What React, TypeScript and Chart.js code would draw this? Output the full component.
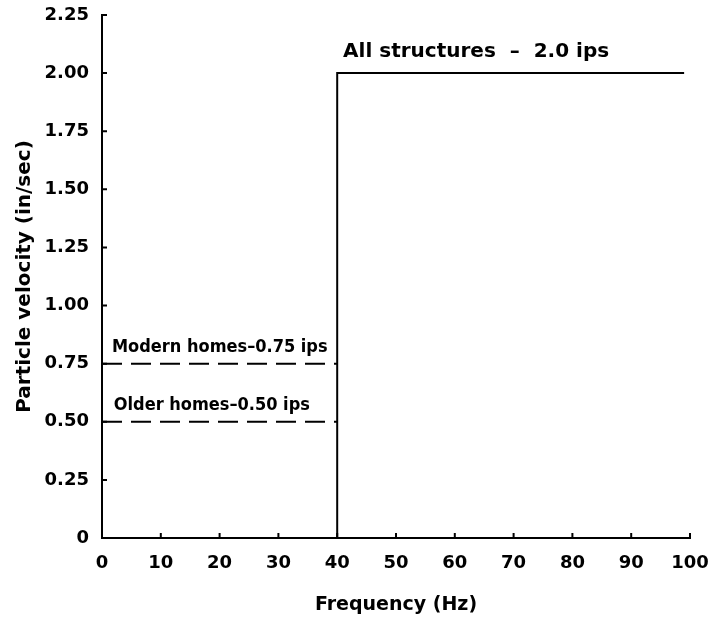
import React, { useEffect, useRef } from "react";
import { Chart, registerables } from "chart.js";

Chart.register(...registerables);

const xTicks = [0, 10, 20, 30, 40, 50, 60, 70, 80, 90, 100];
const yTicks = [0, 0.25, 0.5, 0.75, 1.0, 1.25, 1.5, 1.75, 2.0, 2.25];

const allStructuresX = [40, 40, 99];
const allStructuresY = [0, 2.0, 2.0];
const modernX = [0, 40];
const modernY = [0.75, 0.75];
const olderX = [0, 40];
const olderY = [0.5, 0.5];

const labelTexts = ["All structures  \u2013  2.0 ips", "Modern homes\u20130.75 ips", "Older homes\u20130.50 ips"];
const labelX = [41, 1.7, 2];
const labelY = [2.0, 0.75, 0.5];

const xTitle = "Frequency (Hz)";
const yTitle = "Particle velocity (in/sec)";

const FONT = "'DejaVu Sans', sans-serif";

const toPts = (xs: number[], ys: number[]) => xs.map((x, i) => ({ x, y: ys[i] }));

const inwardTicks = {
  id: "inwardTicks",
  afterDraw(chart: any) {
    const ctx = chart.ctx;
    const xs = chart.scales.x;
    const ys = chart.scales.y;
    ctx.save();
    ctx.strokeStyle = "#000";
    ctx.lineWidth = 2;
    ctx.beginPath();
    yTicks.forEach((v) => {
      const py = ys.getPixelForValue(v);
      ctx.moveTo(xs.left, py);
      ctx.lineTo(xs.left + 5, py);
    });
    xTicks.forEach((v) => {
      const px = xs.getPixelForValue(v);
      ctx.moveTo(px, ys.bottom);
      ctx.lineTo(px, ys.bottom - 5);
    });
    ctx.stroke();
    ctx.fillStyle = "#000";
    ctx.textBaseline = "alphabetic";
    ctx.textAlign = "left";
    labelTexts.forEach((t, i) => {
      ctx.font = i === 0 ? `bold 20px ${FONT}` : `bold 18px 'DejaVu Sans Condensed', ${FONT}`;
      const off = i === 0 ? 16 : 12;
      ctx.fillText(t, xs.getPixelForValue(labelX[i]), ys.getPixelForValue(labelY[i]) - off);
    });
    ctx.restore();
  },
};

export default function App() {
  const ref = useRef<HTMLCanvasElement | null>(null);
  useEffect(() => {
    const chart = new Chart(ref.current as HTMLCanvasElement, {
      type: "line",
      data: {
        datasets: [
          {
            data: toPts(allStructuresX, allStructuresY),
            borderColor: "#000",
            borderWidth: 2,
            pointRadius: 0,
            tension: 0,
          },
          {
            data: toPts(modernX, modernY),
            borderColor: "#000",
            borderWidth: 2,
            borderDash: [20, 9],
            pointRadius: 0,
          },
          {
            data: toPts(olderX, olderY),
            borderColor: "#000",
            borderWidth: 2,
            borderDash: [20, 9],
            pointRadius: 0,
          },
        ],
      },
      options: {
        animation: false,
        responsive: false,
        maintainAspectRatio: false,
        layout: { padding: { top: 15, right: 21, left: 0, bottom: 0 } },
        plugins: { legend: { display: false }, tooltip: { enabled: false } },
        scales: {
          x: {
            type: "linear",
            min: 0,
            max: 100,
            afterBuildTicks: (s: any) => {
              s.ticks = xTicks.map((v) => ({ value: v }));
            },
            afterFit: (s: any) => {
              s.height = 80;
              s.paddingLeft = 0;
              s.paddingRight = 0;
            },
            grid: { display: false, drawTicks: false },
            border: { display: true, color: "#000", width: 2 },
            ticks: {
              color: "#000",
              font: { family: FONT, size: 18, weight: "bold" },
              padding: 15,
              maxRotation: 0,
            },
            title: {
              display: true,
              text: xTitle,
              color: "#000",
              font: { family: FONT, size: 19, weight: "bold" },
              padding: { top: 0, bottom: 2 },
            },
          },
          y: {
            type: "linear",
            min: 0,
            max: 2.25,
            afterBuildTicks: (s: any) => {
              s.ticks = yTicks.map((v) => ({ value: v }));
            },
            afterFit: (s: any) => {
              s.width = 102;
              s.paddingTop = 0;
              s.paddingBottom = 0;
            },
            grid: { display: false, drawTicks: false },
            border: { display: true, color: "#000", width: 2 },
            ticks: {
              color: "#000",
              font: { family: FONT, size: 18, weight: "bold" },
              padding: 13,
              callback: (v: any) => (v === 0 ? "0" : Number(v).toFixed(2)),
            },
            title: {
              display: true,
              text: yTitle,
              color: "#000",
              font: { family: FONT, size: 20, weight: "bold" },
              padding: { top: 13, bottom: 0 },
            },
          },
        },
      },
      plugins: [inwardTicks],
    } as any);
    return () => chart.destroy();
  }, []);
  return (
    <div style={{ position: "fixed", left: 0, top: 0, width: 711, height: 618, background: "#fff" }}>
      <canvas ref={ref} width={711} height={618} style={{ width: 711, height: 618 }} />
    </div>
  );
}
